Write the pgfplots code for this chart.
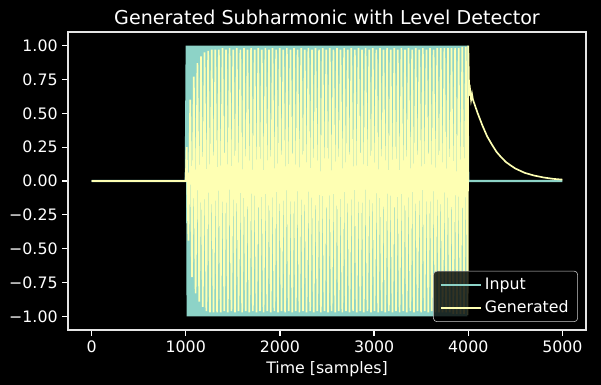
\documentclass[border=0pt]{standalone}
\usepackage{fontspec}
\setmainfont{DejaVu Sans}
\usepackage{pgfplots}
\pgfplotsset{compat=1.18}
\definecolor{cin}{HTML}{8DD3C7}
\definecolor{cgen}{HTML}{FEFFB3}
\begin{document}
\begin{tikzpicture}
\fill[black] (-48.96bp,-39.6bp) rectangle (383.76bp,237.6bp);
\path[use as bounding box] (-48.96bp,-39.6bp) rectangle (383.76bp,237.6bp);
\begin{axis}[
 at={(0,0)}, anchor=south west, scale only axis,
 width=372.96bp, height=214.56bp,
 xmin=-250, xmax=5250, ymin=-1.1, ymax=1.1,
 axis line style={white!90!black, line width=0.9pt},
 tick style={white, line width=0.9pt}, tick align=outside, major tick length=4pt,
 xtick pos=lower, ytick pos=left,
 xtick={0,1000,2000,3000,4000,5000},
 xticklabels={0,1000,2000,3000,4000,5000},
 ytick={-1,-0.75,-0.5,-0.25,0,0.25,0.5,0.75,1},
 yticklabels={−1.00,−0.75,−0.50,−0.25,0.00,0.25,0.50,0.75,1.00},
 ticklabel style={white, font=\fontsize{11.4}{13.5}\selectfont},
 xlabel={Time [samples]},
 xlabel style={white, font=\fontsize{11.4}{13.5}\selectfont, yshift=0.5pt},
 title={Generated Subharmonic with Level Detector},
 title style={white, font=\fontsize{13.8}{16}\selectfont, yshift=-4.5pt},
 legend style={at={(1,0)}, anchor=south east, xshift=-5.8bp, yshift=5.8bp,
   fill=black, fill opacity=0.8, text opacity=1, draw=white!80!black,
   rounded corners=2.5pt, text=white, font=\fontsize{11.4}{13.5}\selectfont,
   inner xsep=4.5bp, inner ysep=3bp, row sep=2.5bp},
 legend image code/.code={\draw[#1, line width=1.7pt] (0bp,0bp) -- (24bp,0bp); \path (0bp,0bp) -- (29bp,0bp);},
 legend cell align=left,
]
\addplot[cin, line width=1.5pt] coordinates {
(0,0)(1000,0)(1010,1)(1020,-1)(1030,1)(1040,-1)(1050,1)(1060,-1)(1070,1)(1080,-1)(1090,1)
(1100,-1)(1110,1)(1120,-1)(1130,1)(1140,-1)(1150,1)(1160,-1)(1170,1)(1180,-1)(1190,1)
(1200,-1)(1210,1)(1220,-1)(1230,1)(1240,-1)(1250,1)(1260,-1)(1270,1)(1280,-1)(1290,1)
(1300,-1)(1310,1)(1320,-1)(1330,1)(1340,-1)(1350,1)(1360,-1)(1370,1)(1380,-1)(1390,1)
(1400,-1)(1410,1)(1420,-1)(1430,1)(1440,-1)(1450,1)(1460,-1)(1470,1)(1480,-1)(1490,1)
(1500,-1)(1510,1)(1520,-1)(1530,1)(1540,-1)(1550,1)(1560,-1)(1570,1)(1580,-1)(1590,1)
(1600,-1)(1610,1)(1620,-1)(1630,1)(1640,-1)(1650,1)(1660,-1)(1670,1)(1680,-1)(1690,1)
(1700,-1)(1710,1)(1720,-1)(1730,1)(1740,-1)(1750,1)(1760,-1)(1770,1)(1780,-1)(1790,1)
(1800,-1)(1810,1)(1820,-1)(1830,1)(1840,-1)(1850,1)(1860,-1)(1870,1)(1880,-1)(1890,1)
(1900,-1)(1910,1)(1920,-1)(1930,1)(1940,-1)(1950,1)(1960,-1)(1970,1)(1980,-1)(1990,1)
(2000,-1)(2010,1)(2020,-1)(2030,1)(2040,-1)(2050,1)(2060,-1)(2070,1)(2080,-1)(2090,1)
(2100,-1)(2110,1)(2120,-1)(2130,1)(2140,-1)(2150,1)(2160,-1)(2170,1)(2180,-1)(2190,1)
(2200,-1)(2210,1)(2220,-1)(2230,1)(2240,-1)(2250,1)(2260,-1)(2270,1)(2280,-1)(2290,1)
(2300,-1)(2310,1)(2320,-1)(2330,1)(2340,-1)(2350,1)(2360,-1)(2370,1)(2380,-1)(2390,1)
(2400,-1)(2410,1)(2420,-1)(2430,1)(2440,-1)(2450,1)(2460,-1)(2470,1)(2480,-1)(2490,1)
(2500,-1)(2510,1)(2520,-1)(2530,1)(2540,-1)(2550,1)(2560,-1)(2570,1)(2580,-1)(2590,1)
(2600,-1)(2610,1)(2620,-1)(2630,1)(2640,-1)(2650,1)(2660,-1)(2670,1)(2680,-1)(2690,1)
(2700,-1)(2710,1)(2720,-1)(2730,1)(2740,-1)(2750,1)(2760,-1)(2770,1)(2780,-1)(2790,1)
(2800,-1)(2810,1)(2820,-1)(2830,1)(2840,-1)(2850,1)(2860,-1)(2870,1)(2880,-1)(2890,1)
(2900,-1)(2910,1)(2920,-1)(2930,1)(2940,-1)(2950,1)(2960,-1)(2970,1)(2980,-1)(2990,1)
(3000,-1)(3010,1)(3020,-1)(3030,1)(3040,-1)(3050,1)(3060,-1)(3070,1)(3080,-1)(3090,1)
(3100,-1)(3110,1)(3120,-1)(3130,1)(3140,-1)(3150,1)(3160,-1)(3170,1)(3180,-1)(3190,1)
(3200,-1)(3210,1)(3220,-1)(3230,1)(3240,-1)(3250,1)(3260,-1)(3270,1)(3280,-1)(3290,1)
(3300,-1)(3310,1)(3320,-1)(3330,1)(3340,-1)(3350,1)(3360,-1)(3370,1)(3380,-1)(3390,1)
(3400,-1)(3410,1)(3420,-1)(3430,1)(3440,-1)(3450,1)(3460,-1)(3470,1)(3480,-1)(3490,1)
(3500,-1)(3510,1)(3520,-1)(3530,1)(3540,-1)(3550,1)(3560,-1)(3570,1)(3580,-1)(3590,1)
(3600,-1)(3610,1)(3620,-1)(3630,1)(3640,-1)(3650,1)(3660,-1)(3670,1)(3680,-1)(3690,1)
(3700,-1)(3710,1)(3720,-1)(3730,1)(3740,-1)(3750,1)(3760,-1)(3770,1)(3780,-1)(3790,1)
(3800,-1)(3810,1)(3820,-1)(3830,1)(3840,-1)(3850,1)(3860,-1)(3870,1)(3880,-1)(3890,1)
(3900,-1)(3910,1)(3920,-1)(3930,1)(3940,-1)(3950,1)(3960,-1)(3970,1)(3980,-1)(3990,1)
(4000,0)(5000,0)
};
\addlegendentry{Input}
\addplot[cgen, line width=1.2pt] coordinates {
(0,0)(1000,0)
(1010,0.25)(1029,-0.44)(1048,0.60)(1067,-0.71)(1086,0.77)(1105,-0.83)(1124,0.87)(1143,-0.89)(1162,0.92)(1181,-0.93)
(1200,0.95)(1219,-0.96)(1238,0.96)(1257,-0.97)(1276,0.97)(1295,-0.97)(1314,0.97)(1333,-0.97)(1352,0.97)(1371,-0.97)
(1390,0.98)(1409,-0.96)(1428,0.97)(1447,-0.97)(1466,0.98)(1485,-0.96)(1504,0.97)(1523,-0.97)(1542,0.98)(1561,-0.96)
(1580,0.97)(1599,-0.97)(1618,0.98)(1637,-0.96)(1656,0.97)(1675,-0.97)(1694,0.98)(1713,-0.96)(1732,0.97)(1751,-0.97)
(1770,0.98)(1789,-0.96)(1808,0.97)(1827,-0.97)(1846,0.98)(1865,-0.96)(1884,0.97)(1903,-0.97)(1922,0.98)(1941,-0.96)
(1960,0.97)(1979,-0.97)(1998,0.98)(2017,-0.96)(2036,0.97)(2055,-0.97)(2074,0.98)(2093,-0.96)(2112,0.97)(2131,-0.97)
(2150,0.98)(2169,-0.96)(2188,0.97)(2207,-0.97)(2226,0.98)(2245,-0.96)(2264,0.97)(2283,-0.97)(2302,0.98)(2321,-0.96)
(2340,0.97)(2359,-0.97)(2378,0.98)(2397,-0.96)(2416,0.97)(2435,-0.97)(2454,0.98)(2473,-0.96)(2492,0.97)(2511,-0.97)
(2530,0.98)(2549,-0.96)(2568,0.97)(2587,-0.97)(2606,0.98)(2625,-0.96)(2644,0.97)(2663,-0.97)(2682,0.98)(2701,-0.96)
(2720,0.97)(2739,-0.97)(2758,0.98)(2777,-0.96)(2796,0.97)(2815,-0.97)(2834,0.98)(2853,-0.96)(2872,0.97)(2891,-0.97)
(2910,0.98)(2929,-0.96)(2948,0.97)(2967,-0.97)(2986,0.98)(3005,-0.96)(3024,0.97)(3043,-0.97)(3062,0.98)(3081,-0.96)
(3100,0.97)(3119,-0.97)(3138,0.98)(3157,-0.96)(3176,0.97)(3195,-0.97)(3214,0.98)(3233,-0.96)(3252,0.97)(3271,-0.97)
(3290,0.98)(3309,-0.96)(3328,0.97)(3347,-0.97)(3366,0.98)(3385,-0.96)(3404,0.97)(3423,-0.97)(3442,0.98)(3461,-0.96)
(3480,0.97)(3499,-0.97)(3518,0.98)(3537,-0.96)(3556,0.97)(3575,-0.97)(3594,0.98)(3613,-0.96)(3632,0.97)(3651,-0.97)
(3670,0.98)(3689,-0.97)(3708,0.98)(3727,-0.97)(3746,0.98)(3765,-0.97)(3784,0.98)(3803,-0.97)(3822,0.98)(3841,-0.98)
(3860,0.98)(3879,-0.98)(3898,0.98)(3917,-0.98)(3936,0.99)(3955,-0.98)(3974,0.99)(3993,-0.99)
(4000,1.0)(4010,0.63)(4020,0.67)(4030,0.60)(4040,0.64)(4050,0.60)(4075,0.55)(4100,0.50)
(4150,0.41)(4200,0.33)(4250,0.27)(4300,0.215)(4350,0.175)(4400,0.14)(4450,0.115)(4500,0.092)
(4600,0.06)(4700,0.04)(4800,0.026)(4900,0.016)(5000,0.01)
};
\addlegendentry{Generated}
\end{axis}
\end{tikzpicture}
\end{document}
